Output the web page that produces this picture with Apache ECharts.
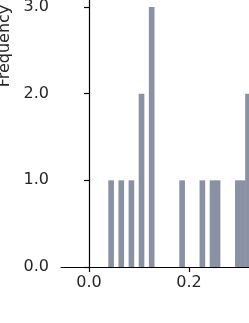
<!DOCTYPE html>
<html>
<head>
<meta charset="utf-8">
<script src="https://cdn.jsdelivr.net/npm/echarts@6/dist/echarts.min.js"></script>
<style>
html,body{margin:0;padding:0;background:#fff;}
#chart{width:249px;height:323px;}
</style>
</head>
<body>
<div id="chart"></div>
<script>
// Histogram bins (left edges) that have non-zero counts, and their counts
const binLefts = [0.0386, 0.0589, 0.0792, 0.0994, 0.1197, 0.1806, 0.2211, 0.2414, 0.2515, 0.2921, 0.3022, 0.3124];
const counts   = [1, 1, 1, 2, 3, 1, 1, 1, 1, 1, 1, 2];
const binWidth = 0.0101;
const xTickValues = [0, 0.2, 0.4];
const yAxisTitle = 'Frequency';

const chart = echarts.init(document.getElementById('chart'), null, {renderer: 'canvas'});
const textColor = '#262626';
const font = 'DejaVu Sans';

chart.setOption({
  animation: false,
  grid: {left: 61, right: 0, top: -175, bottom: 56, containLabel: false, outerBoundsMode: 'none'},
  xAxis: {
    type: 'value',
    min: -0.056,
    max: 0.32,
    axisLine: {show: true, onZero: false, lineStyle: {color: '#000', width: 1.2}},
    axisTick: {show: true, length: 5, customValues: xTickValues, lineStyle: {color: '#000', width: 1.2}},
    axisLabel: {customValues: xTickValues, formatter: v => v.toFixed(1), fontFamily: font, fontSize: 16, color: textColor, margin: 8},
    splitLine: {show: false}
  },
  yAxis: {
    type: 'value',
    min: 0,
    max: 5.10,
    interval: 1,
    name: yAxisTitle,
    nameLocation: 'middle',
    nameGap: 45,
    nameTextStyle: {fontFamily: font, fontSize: 16, color: textColor},
    axisLine: {show: true, lineStyle: {color: '#000', width: 1.2}},
    axisTick: {show: true, length: 5, lineStyle: {color: '#000', width: 1.2}},
    axisLabel: {formatter: v => v.toFixed(1), fontFamily: font, fontSize: 16, color: textColor, margin: 12},
    splitLine: {show: false}
  },
  series: [{
    type: 'custom',
    clip: true,
    z: 1,
    data: binLefts.map((x, i) => [x, counts[i]]),
    renderItem: function (params, api) {
      const x0 = api.value(0);
      const p0 = api.coord([x0, api.value(1)]);
      const p1 = api.coord([x0 + binWidth, 0]);
      return {
        type: 'rect',
        shape: {x: p0[0], y: p0[1], width: p1[0] - p0[0] + 0.6, height: p1[1] - p0[1]},
        style: {fill: '#8b91a5'}
      };
    }
  }]
});
</script>
</body>
</html>
